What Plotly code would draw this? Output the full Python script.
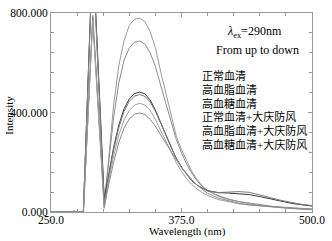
import plotly.graph_objects as go

wavelength = [250, 265, 270, 272, 274, 281, 290, 301, 305, 310, 315, 320, 325, 330, 335, 340,
              345, 350, 355, 360, 365, 370, 375, 380, 385, 390, 395, 400, 410, 420, 430,
              440, 450, 460, 470, 480, 490, 500]

s_normal = [0, 0, 0, 4, 0, 0, 780, 18, 210, 430, 590, 690, 750, 775, 779, 765,
            725, 660, 565, 475, 385, 305, 250, 203, 162, 130, 104, 86, 64, 50, 40,
            33, 27, 22, 18, 15, 13, 11]
s_lipid = [0, 0, 0, 3, 0, 0, 1050, 40, 190, 380, 520, 610, 660, 683, 687, 675,
           640, 585, 510, 435, 360, 292, 238, 192, 155, 125, 102, 86, 66, 52, 42,
           35, 29, 24, 20, 17, 14, 12]
s_sugar = [0, 0, 0, 4, 0, 0, 1060, 52, 140, 260, 350, 415, 455, 476, 482, 475,
           450, 410, 360, 310, 260, 215, 180, 150, 125, 108, 95, 86, 78, 76, 74,
           70, 62, 52, 43, 35, 29, 24]
s_normal_f = [0, 0, 0, 3, 0, 0, 790, 30, 135, 250, 340, 405, 445, 466, 472, 465,
              442, 405, 358, 308, 260, 216, 180, 150, 126, 108, 95, 85, 78, 80, 82,
              79, 70, 58, 47, 38, 31, 26]
s_lipid_f = [0, 0, 0, 4, 0, 0, 770, 15, 120, 225, 310, 370, 408, 430, 437, 430,
             408, 372, 328, 282, 238, 198, 163, 133, 110, 92, 78, 66, 50, 40, 33,
             28, 24, 20, 17, 14, 12, 10]
s_sugar_f = [0, 0, 0, 3, 0, 0, 1040, 20, 105, 200, 280, 338, 374, 393, 398, 392,
             372, 345, 310, 275, 245, 210, 178, 152, 130, 108, 90, 75, 56, 44, 35,
             29, 25, 21, 18, 15, 12, 10]

series = [s_normal, s_lipid, s_sugar, s_normal_f, s_lipid_f, s_sugar_f]
colors = ["#9a9a9a", "#8c8c8c", "#3a3a3a", "#7a7a7a", "#a0a0a0", "#8a8a8a"]

labels = ["正常血清", "高血脂血清", "高血糖血清",
          "正常血清+大庆防风", "高血脂血清+大庆防风", "高血糖血清+大庆防风"]

x_ticks = [250, 375, 500]
x_ticktext = ["250.0", "375.0", "500.0"]
y_ticks = [0, 400, 800]
y_ticktext = ["0.000", "400.000", "800.000"]

fig = go.Figure()
for vals, col in zip(series, colors):
    fig.add_trace(go.Scatter(x=wavelength, y=vals, mode="lines",
                             line=dict(color=col, width=1), showlegend=False))

L, R, T, B = 51, 15, 7, 29
W, H = 332, 241
pw, ph = W - L - R, H - T - B

def px(x):
    return (x - L) / pw

def py(y):
    return (H - B - y) / ph

serif = "Liberation Serif, Times New Roman, serif"
cjk = "Liberation Serif, Noto Sans CJK SC, sans-serif"

axis_common = dict(showline=True, linecolor="#999999", linewidth=1, mirror="ticks",
                   ticks="inside", ticklen=4, tickcolor="#999999", showgrid=False,
                   zeroline=False, tickfont=dict(family=serif, size=11.5, color="black"))

fig.update_xaxes(range=[250, 500], tickvals=x_ticks, ticktext=x_ticktext,
                 ticklabelstandoff=-3,
                 minor=dict(dtick=25, tick0=250, ticks="inside", ticklen=3, tickcolor="#999999"),
                 **axis_common)
fig.update_yaxes(range=[0, 800], tickvals=y_ticks, ticktext=y_ticktext,
                 minor=dict(dtick=80, tick0=0, ticks="inside", ticklen=3, tickcolor="#999999"),
                 **axis_common)

def note(x, y, text, font, xanchor="center", angle=0):
    return dict(x=px(x), y=py(y), xref="paper", yref="paper", showarrow=False,
                xanchor=xanchor, yanchor="middle", textangle=angle, text=text, font=font)

ann = []
ann.append(note(258, 27, "<i>λ</i><sub>ex</sub>=290nm", dict(family=serif, size=12, color="black")))
ann.append(note(261, 45, "From up to down", dict(family=serif, size=12, color="black")))
ys = [71, 86, 100, 114, 128, 142]
for t, yy in zip(labels, ys):
    ann.append(note(203, yy, t, dict(family=cjk, size=11, color="black"), xanchor="left"))
ann.append(note(190, 232.5, "Wavelength (nm)", dict(family=serif, size=11, color="black")))
ann.append(note(8, 112, "Intensity", dict(family=serif, size=11, color="black"), angle=-90))

fig.update_layout(width=W, height=H, margin=dict(l=L, r=R, t=T, b=B),
                  plot_bgcolor="white", paper_bgcolor="white", annotations=ann)

fig.write_html("out.html", config={"displayModeBar": False},
               post_script="document.body.style.margin='0';document.body.style.padding='0';")
